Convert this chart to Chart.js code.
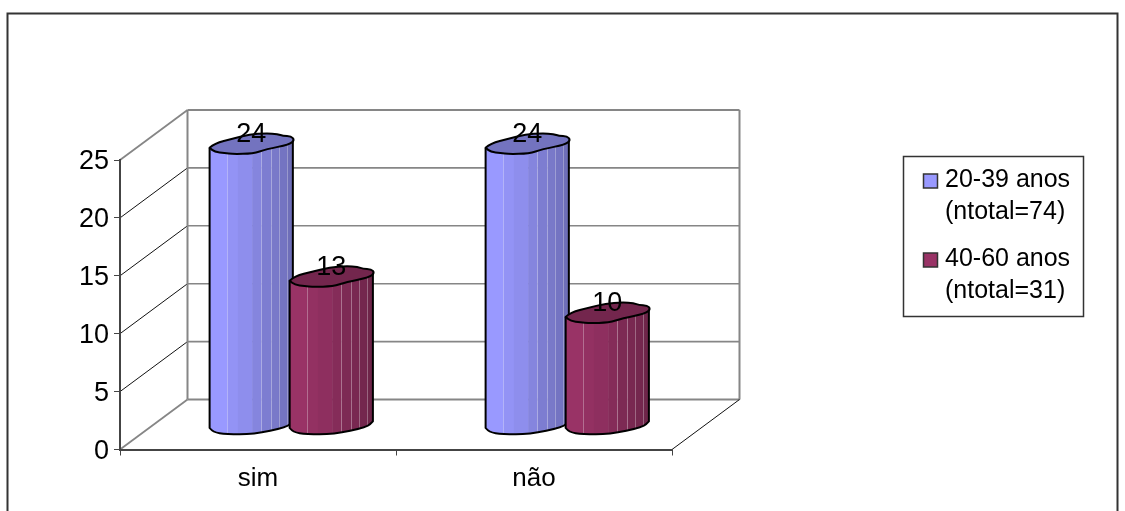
<!DOCTYPE html>
<html>
<head>
<meta charset="utf-8">
<style>
  html, body { margin: 0; padding: 0; background: #fff; }
  canvas { display: block; }
</style>
<script src="https://cdn.jsdelivr.net/npm/chart.js@4"></script>
</head>
<body>
<canvas id="chart" width="1125" height="511"></canvas>
<script>
const categories = ['sim', 'não'];
const values2039 = [24, 24];
const values4060 = [13, 10];
const label2039 = ['20-39 anos', '(ntotal=74)'];
const label4060 = ['40-60 anos', '(ntotal=31)'];
const color2039 = [153, 153, 255];
const color4060 = [153, 51, 102];

const FONT = '"Liberation Sans", Arial, sans-serif';
const DEPTH_X = 67.5;
const DEPTH_Y = 50;

// cylinder facets: where each one ends (fraction of width) and how dark it is
const facetEnds = [0.208, 0.34, 0.512, 0.62, 0.74, 0.832, 0.928, 1];
const facetShade = [1, 0.96, 0.93, 0.87, 0.82, 0.79, 0.76, 0.72];
const facetLines = [0.208, 0.62, 0.74, 0.832, 0.928];

// lid and base outlines, in units of half the bar width
const lidOutline = [
  [-1, 0.1], [-0.88, -0.01], [-0.44, -0.12], [-0.04, -0.22], [0.36, -0.25], [0.64, -0.23],
  [0.76, -0.184], [0.96, -0.18], [1.04, -0.088], [0.92, 0.02], [0.36, 0.136], [0.04, 0.24],
  [-0.44, 0.25], [-0.64, 0.23], [-0.88, 0.2]
];
const baseOutline = [
  [-1, 0], [-0.92, 0.1], [-0.6, 0.15], [0.05, 0.15], [0.86, -0.02], [1, -0.16]
];

function rgb(c, k) {
  return `rgb(${Math.round(c[0] * k)},${Math.round(c[1] * k)},${Math.round(c[2] * k)})`;
}

// the bars stand halfway into the floor, so their scale is a bit larger than the front axis
function barTopY(scale, value) {
  const y0 = scale.getPixelForValue(0);
  return y0 - 16 - (y0 - scale.getPixelForValue(value)) * 1.043;
}

// rounded run through a list of points, keeping the first and last one
function curveThrough(ctx, pts) {
  for (let i = 1; i < pts.length - 1; i++) {
    const mx = (pts[i][0] + pts[i + 1][0]) / 2;
    const my = (pts[i][1] + pts[i + 1][1]) / 2;
    ctx.quadraticCurveTo(pts[i][0], pts[i][1], mx, my);
  }
  ctx.lineTo(pts[pts.length - 1][0], pts[pts.length - 1][1]);
}

class CylinderController extends Chart.BarController {
  // Chart.js paints the last dataset first, but here the right bar has to overlap the left one
  draw() {
    if (this.index !== 0) return;
    this.chart.data.datasets.forEach((ds, n) => this.chart.getDatasetMeta(n).controller.drawCylinders());
  }

  drawCylinders() {
    const ctx = this.chart.ctx;
    const yScale = this.chart.scales.y;
    const color = this.getDataset().baseColor;
    const baseY = yScale.getPixelForValue(0) - 21.5;

    this.getMeta().data.forEach((bar, i) => {
      const cx = bar.x + DEPTH_X / 2 - 0.5;
      const hw = bar.width / 2 * 1.04;
      const topY = barTopY(yScale, this.getDataset().data[i]);
      const lidPts = lidOutline.map(p => [cx + p[0] * hw, topY + p[1] * hw]);
      const basePts = baseOutline.map(p => [cx + p[0] * hw, baseY + p[1] * hw]);

      const sidePath = () => {
        ctx.beginPath();
        ctx.moveTo(lidPts[0][0], lidPts[0][1]);
        ctx.lineTo(basePts[0][0], basePts[0][1]);
        curveThrough(ctx, basePts);
        ctx.lineTo(cx + hw, lidPts[8][1]);
      };

      // side of the cylinder
      ctx.save();
      ctx.lineJoin = 'round';
      ctx.save();
      sidePath();
      ctx.clip();
      let from = cx - hw;
      facetEnds.forEach((end, n) => {
        const to = cx - hw + end * 2 * hw;
        ctx.fillStyle = rgb(color, facetShade[n]);
        ctx.fillRect(from, topY - hw, to - from + 0.5, baseY - topY + 2 * hw);
        from = to;
      });
      ctx.strokeStyle = 'rgba(255,255,255,0.3)';
      ctx.lineWidth = 1;
      facetLines.forEach(f => {
        const x = Math.round(cx - hw + f * 2 * hw) + 0.5;
        ctx.beginPath();
        ctx.moveTo(x, topY - hw);
        ctx.lineTo(x, baseY + hw);
        ctx.stroke();
      });
      ctx.restore();

      ctx.strokeStyle = '#000';
      ctx.lineWidth = 2;
      sidePath();
      ctx.stroke();

      // lid
      const start = lidPts[0];
      const closed = lidPts.slice(1).concat([start]);
      ctx.beginPath();
      ctx.moveTo(start[0], start[1]);
      curveThrough(ctx, [start].concat(closed));
      ctx.closePath();
      ctx.fillStyle = rgb(color, 0.75);
      ctx.fill();
      ctx.stroke();
      ctx.restore();
    });
  }
}
CylinderController.id = 'cylinder';
CylinderController.defaults = Chart.BarController.defaults;
Chart.register(CylinderController);

// outer frame, back wall, side wall and floor
const wallsPlugin = {
  id: 'walls',
  beforeDraw(chart) {
    const ctx = chart.ctx;
    const { left, right } = chart.chartArea;
    const yScale = chart.scales.y;
    const grey = '#868686';

    ctx.save();
    ctx.strokeStyle = '#333';
    ctx.lineWidth = 2;
    ctx.strokeRect(7.5, 13.5, 1110, 520);

    yScale.ticks.forEach((tick, i) => {
      const y = yScale.getPixelForValue(tick.value);
      const edge = i === 0 || i === yScale.ticks.length - 1;
      ctx.strokeStyle = edge ? grey : '#111';
      ctx.lineWidth = edge ? 1.8 : 1;
      ctx.beginPath();
      ctx.moveTo(left, y);
      ctx.lineTo(left + DEPTH_X, y - DEPTH_Y);
      ctx.stroke();

      ctx.strokeStyle = grey;
      ctx.lineWidth = edge ? 2 : 1.6;
      ctx.beginPath();
      ctx.moveTo(left + DEPTH_X, y - DEPTH_Y);
      ctx.lineTo(right + DEPTH_X, y - DEPTH_Y);
      ctx.stroke();
    });

    const topY = yScale.getPixelForValue(25) - DEPTH_Y;
    const floorY = yScale.getPixelForValue(0) - DEPTH_Y;
    ctx.strokeStyle = grey;
    ctx.lineWidth = 2;
    ctx.beginPath();
    ctx.moveTo(left + DEPTH_X, topY);
    ctx.lineTo(left + DEPTH_X, floorY);
    ctx.moveTo(right + DEPTH_X, topY);
    ctx.lineTo(right + DEPTH_X, floorY);
    ctx.stroke();

    ctx.strokeStyle = '#111';
    ctx.lineWidth = 1;
    ctx.beginPath();
    ctx.moveTo(right, yScale.getPixelForValue(0));
    ctx.lineTo(right + DEPTH_X, floorY);
    ctx.stroke();
    ctx.restore();
  }
};

// value labels over the lids, then the legend box
const labelsPlugin = {
  id: 'labels',
  afterDatasetsDraw(chart) {
    const ctx = chart.ctx;
    const yScale = chart.scales.y;
    ctx.save();
    ctx.fillStyle = '#000';
    ctx.font = '27px ' + FONT;
    ctx.textAlign = 'center';
    ctx.textBaseline = 'middle';
    chart.data.datasets.forEach((ds, d) => {
      chart.getDatasetMeta(d).data.forEach((bar, i) => {
        ctx.fillText(ds.data[i], bar.x + DEPTH_X / 2 - 0.5, barTopY(yScale, ds.data[i]) - 9);
      });
    });

    ctx.strokeStyle = '#333';
    ctx.lineWidth = 1.5;
    ctx.fillStyle = '#fff';
    ctx.fillRect(903.5, 156.5, 180, 160);
    ctx.strokeRect(903.5, 156.5, 180, 160);

    ctx.font = '25px ' + FONT;
    ctx.textAlign = 'left';
    chart.data.datasets.forEach((ds, d) => {
      const y = 179 + d * 79;
      ctx.fillStyle = rgb(ds.baseColor, 1);
      ctx.fillRect(923.5, y - 5, 14, 14);
      ctx.strokeRect(923.5, y - 5, 14, 14);
      ctx.fillStyle = '#000';
      ctx.fillText(ds.label[0], 945, y + 1.5);
      ctx.fillText(ds.label[1], 945, y + 33);
    });
    ctx.restore();
  }
};

new Chart(document.getElementById('chart'), {
  type: 'cylinder',
  data: {
    labels: categories,
    datasets: [
      { label: label2039, data: values2039, baseColor: color2039, clip: false, categoryPercentage: 0.58, barPercentage: 1 },
      { label: label4060, data: values4060, baseColor: color4060, clip: false, categoryPercentage: 0.58, barPercentage: 1 }
    ]
  },
  options: {
    responsive: false,
    animation: false,
    layout: { padding: { left: 60, right: 453, top: 160, bottom: 11.5 } },
    plugins: { legend: { display: false }, tooltip: { enabled: false } },
    scales: {
      x: {
        afterFit(scale) { scale.height = 50; },
        border: { color: '#444', width: 2 },
        grid: { drawOnChartArea: false, drawTicks: true, tickLength: 6, color: '#444' },
        ticks: { color: '#000', padding: 8, maxRotation: 0, font: { family: FONT, size: 26 } }
      },
      y: {
        min: 0,
        max: 25,
        afterFit(scale) { scale.width = 60; },
        border: { color: '#444', width: 2 },
        grid: { drawOnChartArea: false, drawTicks: true, tickLength: 6, color: '#444' },
        ticks: { stepSize: 5, color: '#000', padding: 5, labelOffset: 2, font: { family: FONT, size: 27 } }
      }
    }
  },
  plugins: [wallsPlugin, labelsPlugin]
});
</script>
</body>
</html>
